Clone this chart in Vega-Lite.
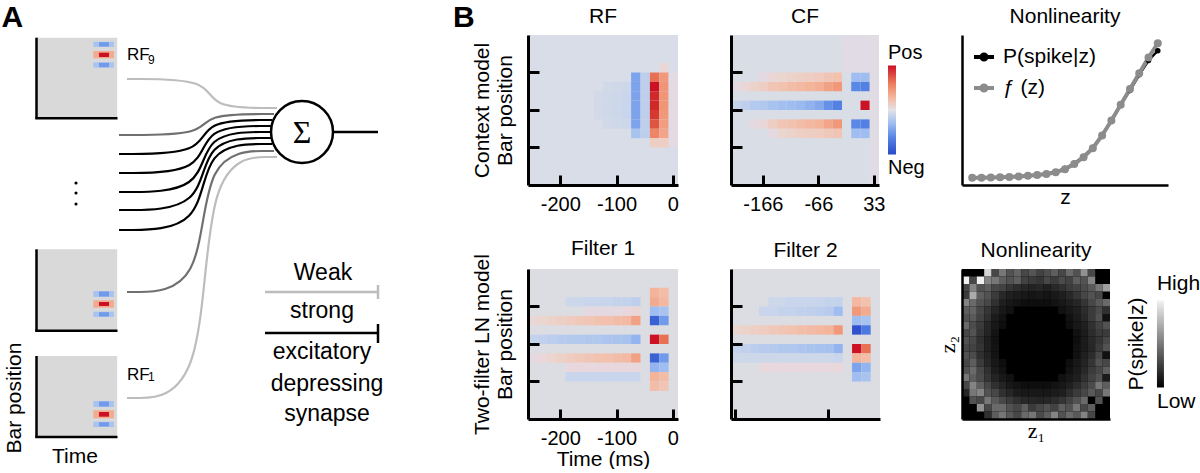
{
"$schema":"https://vega.github.io/schema/vega-lite/v6.json",
"padding":{"left":0,"top":2,"right":0,"bottom":0},
"config":{"view":{"stroke":null},"font":"Liberation Sans",
"axis":{"grid":false,"domainColor":"#000","tickColor":"#000","labelColor":"#000","titleColor":"#000","labelFontSize":20,"titleFontSize":21,"titleFontWeight":"normal","labelFont":"Liberation Sans","titleFont":"Liberation Sans"},
"title":{"fontSize":21,"fontWeight":"normal","offset":8,"color":"#000","font":"Liberation Sans"},
"text":{"color":"#000"}},
"datasets":{
"abox":[{"x":3.6,"x2":11.72,"y":3.67,"y2":11.73},{"x":3.6,"x2":11.72,"y":24.83,"y2":32.98},{"x":3.6,"x2":11.72,"y":35.5,"y2":43.6}],
"acell":[
{"x":9.33,"x2":11.4,"y":4.07,"y2":4.6,"v":-0.25},{"x":9.9,"x2":10.9,"y":4.12,"y2":4.55,"v":-0.5},
{"x":9.33,"x2":11.4,"y":5.0,"y2":5.73,"v":0.35},{"x":9.9,"x2":10.9,"y":5.17,"y2":5.6,"v":1.0},
{"x":9.33,"x2":11.4,"y":6.13,"y2":6.67,"v":-0.25},{"x":9.9,"x2":10.9,"y":6.18,"y2":6.62,"v":-0.5},
{"x":9.33,"x2":11.4,"y":29.0,"y2":29.6,"v":-0.25},{"x":9.9,"x2":10.9,"y":29.05,"y2":29.55,"v":-0.5},
{"x":9.33,"x2":11.4,"y":29.93,"y2":30.67,"v":0.35},{"x":9.9,"x2":10.9,"y":30.1,"y2":30.5,"v":1.0},
{"x":9.33,"x2":11.4,"y":31.07,"y2":31.6,"v":-0.25},{"x":9.9,"x2":10.9,"y":31.12,"y2":31.55,"v":-0.5},
{"x":9.33,"x2":11.4,"y":40.0,"y2":40.6,"v":-0.25},{"x":9.9,"x2":10.9,"y":40.05,"y2":40.55,"v":-0.5},
{"x":9.33,"x2":11.4,"y":40.93,"y2":41.73,"v":0.35},{"x":9.9,"x2":10.9,"y":41.1,"y2":41.57,"v":1.0},
{"x":9.33,"x2":11.4,"y":42.07,"y2":42.6,"v":-0.25},{"x":9.9,"x2":10.9,"y":42.12,"y2":42.55,"v":-0.5}],
"acurve":[
{"id":1,"o":0,"x":12.7,"y":7.8,"w":"weak"},{"id":1,"o":1,"x":20.95,"y":7.8,"w":"weak"},{"id":1,"o":2,"x":20.95,"y":10.7,"w":"weak"},{"id":1,"o":3,"x":27.7,"y":10.7,"w":"weak"},
{"id":2,"o":0,"x":11.9,"y":13.4,"w":"mid"},{"id":2,"o":1,"x":20.4,"y":13.4,"w":"mid"},{"id":2,"o":2,"x":20.4,"y":11.3,"w":"mid"},{"id":2,"o":3,"x":27.4,"y":11.3,"w":"mid"},
{"id":3,"o":0,"x":11.9,"y":15.3,"w":"strong"},{"id":3,"o":1,"x":20.3,"y":15.3,"w":"strong"},{"id":3,"o":2,"x":20.3,"y":11.9,"w":"strong"},{"id":3,"o":3,"x":27.2,"y":11.9,"w":"strong"},
{"id":4,"o":0,"x":11.9,"y":17.2,"w":"strong"},{"id":4,"o":1,"x":20.3,"y":17.2,"w":"strong"},{"id":4,"o":2,"x":20.3,"y":12.5,"w":"strong"},{"id":4,"o":3,"x":27.1,"y":12.5,"w":"strong"},
{"id":5,"o":0,"x":11.9,"y":19.1,"w":"strong"},{"id":5,"o":1,"x":20.3,"y":19.1,"w":"strong"},{"id":5,"o":2,"x":20.3,"y":13.1,"w":"strong"},{"id":5,"o":3,"x":27.1,"y":13.1,"w":"strong"},
{"id":6,"o":0,"x":11.9,"y":20.9,"w":"strong"},{"id":6,"o":1,"x":20.3,"y":20.9,"w":"strong"},{"id":6,"o":2,"x":20.3,"y":13.7,"w":"strong"},{"id":6,"o":3,"x":27.1,"y":13.7,"w":"strong"},
{"id":7,"o":0,"x":11.9,"y":22.9,"w":"strong"},{"id":7,"o":1,"x":20.3,"y":22.9,"w":"strong"},{"id":7,"o":2,"x":20.3,"y":14.3,"w":"strong"},{"id":7,"o":3,"x":27.2,"y":14.3,"w":"strong"},
{"id":8,"o":0,"x":12.7,"y":29.1,"w":"mid"},{"id":8,"o":1,"x":20.3,"y":29.1,"w":"mid"},{"id":8,"o":2,"x":20.3,"y":15.0,"w":"mid"},{"id":8,"o":3,"x":27.4,"y":15.0,"w":"mid"},
{"id":9,"o":0,"x":12.7,"y":39.7,"w":"weak"},{"id":9,"o":1,"x":20.5,"y":39.7,"w":"weak"},{"id":9,"o":2,"x":20.5,"y":15.6,"w":"weak"},{"id":9,"o":3,"x":27.7,"y":15.6,"w":"weak"}],
"arule":[
{"x":3.65,"x2":3.65,"y":3.67,"y2":11.73,"w":"strong"},{"x":3.52,"x2":11.75,"y":11.73,"y2":11.73,"w":"strong"},
{"x":3.65,"x2":3.65,"y":24.83,"y2":32.98,"w":"strong"},{"x":3.52,"x2":11.75,"y":32.98,"y2":32.98,"w":"strong"},
{"x":3.65,"x2":3.65,"y":35.5,"y2":43.6,"w":"strong"},{"x":3.52,"x2":11.75,"y":43.6,"y2":43.6,"w":"strong"},
{"x":33.4,"x2":37.8,"y":13.1,"y2":13.1,"w":"strong"},
{"x":26.5,"x2":37.8,"y":29.1,"y2":29.1,"w":"weak"},{"x":37.8,"x2":37.8,"y":28.4,"y2":29.8,"w":"weak"},
{"x":26.5,"x2":37.8,"y":33.2,"y2":33.2,"w":"strong"},{"x":37.8,"x2":37.8,"y":32.3,"y2":34.2,"w":"strong"}],
"acircle":[{"x":30.2,"y":13.1}],
"asigma":[{"x":30.2,"y":13.2,"s":"Σ"}],
"adots":[{"x":7.6,"y":18.2},{"x":7.6,"y":19.2},{"x":7.6,"y":20.3}],
"aword":[{"x":32.3,"y":27.93,"s":"Weak"},{"x":32.2,"y":31.67,"s":"strong"},{"x":32.2,"y":35.83,"s":"excitatory"},{"x":32.7,"y":39.0,"s":"depressing"},{"x":32.7,"y":42.0,"s":"synapse"}],
"arf":[{"x":12.7,"y":5.93,"s":"RF"},{"x":12.7,"y":37.87,"s":"RF"}],
"asub":[{"x":14.8,"y":6.27,"s":"9"},{"x":14.8,"y":38.0,"s":"1"}],
"abig":[{"x":0.15,"y":2.6,"s":"A"},{"x":45.3,"y":2.55,"s":"B"}],
"atime":[{"x":7.5,"y":46.2,"s":"Time"}],
"abar":[{"x":1.5,"y":39.7,"s":"Bar position"}],
"rf":[
{"t":-133.3,"b":10,"v":-0.05},{"t":-133.3,"b":9,"v":-0.05},{"t":-133.3,"b":8,"v":-0.05},
{"t":-116.7,"b":11,"v":-0.06},{"t":-116.7,"b":10,"v":-0.07},{"t":-116.7,"b":9,"v":-0.07},{"t":-116.7,"b":8,"v":-0.07},{"t":-116.7,"b":7,"v":-0.06},
{"t":-100,"b":11,"v":-0.07},{"t":-100,"b":10,"v":-0.08},{"t":-100,"b":9,"v":-0.08},{"t":-100,"b":8,"v":-0.08},{"t":-100,"b":7,"v":-0.07},
{"t":-83.3,"b":11,"v":-0.08},{"t":-83.3,"b":10,"v":-0.1},{"t":-83.3,"b":9,"v":-0.1},{"t":-83.3,"b":8,"v":-0.1},{"t":-83.3,"b":7,"v":-0.08},
{"t":-66.7,"b":12,"v":-0.45},{"t":-66.7,"b":11,"v":-0.45},{"t":-66.7,"b":10,"v":-0.45},{"t":-66.7,"b":9,"v":-0.45},{"t":-66.7,"b":8,"v":-0.45},{"t":-66.7,"b":7,"v":-0.45},{"t":-66.7,"b":6,"v":-0.25},
{"t":-50,"b":12,"v":-0.15},{"t":-50,"b":11,"v":-0.15},{"t":-50,"b":10,"v":-0.15},{"t":-50,"b":9,"v":-0.15},{"t":-50,"b":8,"v":-0.15},{"t":-50,"b":7,"v":-0.15},{"t":-50,"b":6,"v":-0.15},
{"t":-33.3,"b":12,"v":0.65},{"t":-33.3,"b":11,"v":1},{"t":-33.3,"b":10,"v":0.95},{"t":-33.3,"b":9,"v":0.95},{"t":-33.3,"b":8,"v":0.9},{"t":-33.3,"b":7,"v":0.78},{"t":-33.3,"b":6,"v":0.55},{"t":-33.3,"b":5,"v":0.15},
{"t":-16.7,"b":13,"v":0.08},{"t":-16.7,"b":12,"v":0.45},{"t":-16.7,"b":11,"v":0.47},{"t":-16.7,"b":10,"v":0.47},{"t":-16.7,"b":9,"v":0.47},{"t":-16.7,"b":8,"v":0.45},{"t":-16.7,"b":7,"v":0.42},{"t":-16.7,"b":6,"v":0.38},{"t":-16.7,"b":5,"v":0.15},
{"t":0,"b":12,"v":0.04},{"t":0,"b":11,"v":0.04},{"t":0,"b":10,"v":0.04},{"t":0,"b":9,"v":0.04},{"t":0,"b":8,"v":0.04},{"t":0,"b":7,"v":0.04},{"t":0,"b":6,"v":0.04},{"t":0,"b":5,"v":0.04}],
"cf":[
{"t":-216.7,"b":11,"v":0.05},{"t":-200,"b":11,"v":0.08},{"t":-183.3,"b":11,"v":0.12},{"t":-166.7,"b":11,"v":0.15},{"t":-150,"b":11,"v":0.2},{"t":-133.3,"b":11,"v":0.22},{"t":-116.7,"b":11,"v":0.25},{"t":-100,"b":11,"v":0.27},{"t":-83.3,"b":11,"v":0.3},{"t":-66.7,"b":11,"v":0.33},{"t":-50,"b":11,"v":0.4},{"t":-33.3,"b":11,"v":0.45},
{"t":-166.7,"b":12,"v":0.05},{"t":-150,"b":12,"v":0.08},{"t":-133.3,"b":12,"v":0.1},{"t":-116.7,"b":12,"v":0.12},{"t":-100,"b":12,"v":0.14},{"t":-83.3,"b":12,"v":0.15},{"t":-66.7,"b":12,"v":0.17},{"t":-50,"b":12,"v":0.2},{"t":-33.3,"b":12,"v":0.22},
{"t":-216.7,"b":9,"v":-0.12},{"t":-200,"b":9,"v":-0.15},{"t":-183.3,"b":9,"v":-0.2},{"t":-166.7,"b":9,"v":-0.22},{"t":-150,"b":9,"v":-0.25},{"t":-133.3,"b":9,"v":-0.28},{"t":-116.7,"b":9,"v":-0.3},{"t":-100,"b":9,"v":-0.32},{"t":-83.3,"b":9,"v":-0.36},{"t":-66.7,"b":9,"v":-0.42},{"t":-50,"b":9,"v":-0.55},{"t":-33.3,"b":9,"v":-0.65},
{"t":-183.3,"b":7,"v":0.05},{"t":-166.7,"b":7,"v":0.08},{"t":-150,"b":7,"v":0.15},{"t":-133.3,"b":7,"v":0.2},{"t":-116.7,"b":7,"v":0.22},{"t":-100,"b":7,"v":0.25},{"t":-83.3,"b":7,"v":0.28},{"t":-66.7,"b":7,"v":0.3},{"t":-50,"b":7,"v":0.38},{"t":-33.3,"b":7,"v":0.45},
{"t":-150,"b":6,"v":0.05},{"t":-133.3,"b":6,"v":0.1},{"t":-116.7,"b":6,"v":0.12},{"t":-100,"b":6,"v":0.14},{"t":-83.3,"b":6,"v":0.15},{"t":-66.7,"b":6,"v":0.16},{"t":-50,"b":6,"v":0.18},{"t":-33.3,"b":6,"v":0.2},
{"t":0,"b":12,"v":-0.3},{"t":0,"b":11,"v":-0.6},{"t":0,"b":7,"v":-0.6},{"t":0,"b":6,"v":-0.3},
{"t":16.7,"b":12,"v":-0.3},{"t":16.7,"b":11,"v":-0.65},{"t":16.7,"b":9,"v":1},{"t":16.7,"b":7,"v":-0.65},{"t":16.7,"b":6,"v":-0.3},
{"t":-16.7,"b":16,"v":0.03},{"t":-16.7,"b":15,"v":0.03},{"t":-16.7,"b":14,"v":0.03},{"t":-16.7,"b":13,"v":0.03},
{"t":0,"b":16,"v":0.03},{"t":0,"b":15,"v":0.03},{"t":0,"b":14,"v":0.03},{"t":0,"b":13,"v":0.03},
{"t":16.7,"b":16,"v":0.03},{"t":16.7,"b":15,"v":0.03},{"t":16.7,"b":14,"v":0.03},{"t":16.7,"b":13,"v":0.03},
{"t":33.3,"b":16,"v":0.035},{"t":33.3,"b":15,"v":0.035},{"t":33.3,"b":14,"v":0.035},{"t":33.3,"b":13,"v":0.035},{"t":33.3,"b":12,"v":0.035},{"t":33.3,"b":11,"v":0.035},{"t":33.3,"b":10,"v":0.035},{"t":33.3,"b":9,"v":0.035},{"t":33.3,"b":8,"v":0.035},{"t":33.3,"b":7,"v":0.035},{"t":33.3,"b":6,"v":0.035},{"t":33.3,"b":5,"v":0.035},{"t":33.3,"b":4,"v":0.03},{"t":33.3,"b":3,"v":0.03},{"t":33.3,"b":2,"v":0.03},{"t":33.3,"b":1,"v":0.03}],
"f1":[
{"t":-183.3,"b":13,"v":-0.08},{"t":-166.7,"b":13,"v":-0.08},{"t":-150,"b":13,"v":-0.1},{"t":-133.3,"b":13,"v":-0.1},{"t":-116.7,"b":13,"v":-0.1},{"t":-100,"b":13,"v":-0.12},{"t":-83.3,"b":13,"v":-0.12},{"t":-66.7,"b":13,"v":-0.15},
{"t":-150,"b":12,"v":0.05},{"t":-133.3,"b":12,"v":0.05},{"t":-116.7,"b":12,"v":0.05},{"t":-100,"b":12,"v":0.05},{"t":-83.3,"b":12,"v":0.06},{"t":-66.7,"b":12,"v":0.08},
{"t":-250,"b":11,"v":0.08},{"t":-233.3,"b":11,"v":0.1},{"t":-216.7,"b":11,"v":0.12},{"t":-200,"b":11,"v":0.14},{"t":-183.3,"b":11,"v":0.16},{"t":-166.7,"b":11,"v":0.18},{"t":-150,"b":11,"v":0.2},{"t":-133.3,"b":11,"v":0.22},{"t":-116.7,"b":11,"v":0.23},{"t":-100,"b":11,"v":0.25},{"t":-83.3,"b":11,"v":0.27},{"t":-66.7,"b":11,"v":0.4},
{"t":-250,"b":9,"v":-0.12},{"t":-233.3,"b":9,"v":-0.14},{"t":-216.7,"b":9,"v":-0.16},{"t":-200,"b":9,"v":-0.18},{"t":-183.3,"b":9,"v":-0.2},{"t":-166.7,"b":9,"v":-0.2},{"t":-150,"b":9,"v":-0.22},{"t":-133.3,"b":9,"v":-0.22},{"t":-116.7,"b":9,"v":-0.24},{"t":-100,"b":9,"v":-0.25},{"t":-83.3,"b":9,"v":-0.26},{"t":-66.7,"b":9,"v":-0.35},
{"t":-250,"b":7,"v":0.05},{"t":-233.3,"b":7,"v":0.07},{"t":-216.7,"b":7,"v":0.1},{"t":-200,"b":7,"v":0.13},{"t":-183.3,"b":7,"v":0.16},{"t":-166.7,"b":7,"v":0.18},{"t":-150,"b":7,"v":0.2},{"t":-133.3,"b":7,"v":0.22},{"t":-116.7,"b":7,"v":0.23},{"t":-100,"b":7,"v":0.25},{"t":-83.3,"b":7,"v":0.27},{"t":-66.7,"b":7,"v":0.4},
{"t":-183.3,"b":6,"v":0.06},{"t":-166.7,"b":6,"v":0.06},{"t":-150,"b":6,"v":0.06},{"t":-133.3,"b":6,"v":0.06},{"t":-116.7,"b":6,"v":0.06},{"t":-100,"b":6,"v":0.06},{"t":-83.3,"b":6,"v":0.06},{"t":-66.7,"b":6,"v":0.06},
{"t":-183.3,"b":5,"v":-0.1},{"t":-166.7,"b":5,"v":-0.1},{"t":-150,"b":5,"v":-0.1},{"t":-133.3,"b":5,"v":-0.1},{"t":-116.7,"b":5,"v":-0.1},{"t":-100,"b":5,"v":-0.1},{"t":-83.3,"b":5,"v":-0.1},{"t":-66.7,"b":5,"v":-0.1},
{"t":-33.3,"b":14,"v":0.3},{"t":-33.3,"b":13,"v":0.35},{"t":-33.3,"b":12,"v":-0.3},{"t":-33.3,"b":11,"v":-0.85},{"t":-33.3,"b":9,"v":1},{"t":-33.3,"b":7,"v":-0.85},{"t":-33.3,"b":6,"v":-0.35},{"t":-33.3,"b":5,"v":0.3},{"t":-33.3,"b":4,"v":0.25},
{"t":-16.7,"b":14,"v":0.25},{"t":-16.7,"b":13,"v":0.28},{"t":-16.7,"b":12,"v":-0.25},{"t":-16.7,"b":11,"v":-0.5},{"t":-16.7,"b":9,"v":0.65},{"t":-16.7,"b":7,"v":-0.5},{"t":-16.7,"b":6,"v":-0.3},{"t":-16.7,"b":5,"v":0.25},{"t":-16.7,"b":4,"v":0.2}],
"f2":[
{"t":-183.3,"b":13,"v":-0.08},{"t":-166.7,"b":13,"v":-0.08},{"t":-150,"b":13,"v":-0.1},{"t":-133.3,"b":13,"v":-0.1},{"t":-116.7,"b":13,"v":-0.1},{"t":-100,"b":13,"v":-0.1},{"t":-83.3,"b":13,"v":-0.12},{"t":-66.7,"b":13,"v":-0.12},
{"t":-200,"b":12,"v":-0.1},{"t":-183.3,"b":12,"v":-0.1},{"t":-166.7,"b":12,"v":-0.12},{"t":-150,"b":12,"v":-0.12},{"t":-133.3,"b":12,"v":-0.14},{"t":-116.7,"b":12,"v":-0.15},{"t":-100,"b":12,"v":-0.16},{"t":-83.3,"b":12,"v":-0.18},{"t":-66.7,"b":12,"v":-0.3},
{"t":-250,"b":10,"v":0.1},{"t":-233.3,"b":10,"v":0.12},{"t":-216.7,"b":10,"v":0.14},{"t":-200,"b":10,"v":0.16},{"t":-183.3,"b":10,"v":0.18},{"t":-166.7,"b":10,"v":0.2},{"t":-150,"b":10,"v":0.22},{"t":-133.3,"b":10,"v":0.24},{"t":-116.7,"b":10,"v":0.26},{"t":-100,"b":10,"v":0.28},{"t":-83.3,"b":10,"v":0.3},{"t":-66.7,"b":10,"v":0.45},
{"t":-250,"b":8,"v":-0.12},{"t":-233.3,"b":8,"v":-0.14},{"t":-216.7,"b":8,"v":-0.16},{"t":-200,"b":8,"v":-0.18},{"t":-183.3,"b":8,"v":-0.2},{"t":-166.7,"b":8,"v":-0.22},{"t":-150,"b":8,"v":-0.22},{"t":-133.3,"b":8,"v":-0.24},{"t":-116.7,"b":8,"v":-0.25},{"t":-100,"b":8,"v":-0.26},{"t":-83.3,"b":8,"v":-0.27},{"t":-66.7,"b":8,"v":-0.35},
{"t":-250,"b":7,"v":-0.08},{"t":-233.3,"b":7,"v":-0.08},{"t":-216.7,"b":7,"v":-0.08},{"t":-200,"b":7,"v":-0.08},{"t":-183.3,"b":7,"v":-0.08},{"t":-166.7,"b":7,"v":-0.08},{"t":-150,"b":7,"v":-0.08},{"t":-133.3,"b":7,"v":-0.08},{"t":-116.7,"b":7,"v":-0.08},{"t":-100,"b":7,"v":-0.08},{"t":-83.3,"b":7,"v":-0.08},{"t":-66.7,"b":7,"v":-0.1},
{"t":-200,"b":6,"v":0.06},{"t":-183.3,"b":6,"v":0.06},{"t":-166.7,"b":6,"v":0.06},{"t":-150,"b":6,"v":0.06},{"t":-133.3,"b":6,"v":0.06},{"t":-116.7,"b":6,"v":0.06},{"t":-100,"b":6,"v":0.06},{"t":-83.3,"b":6,"v":0.06},{"t":-66.7,"b":6,"v":0.07},
{"t":-33.3,"b":13,"v":0.28},{"t":-33.3,"b":12,"v":0.45},{"t":-33.3,"b":11,"v":-0.3},{"t":-33.3,"b":10,"v":-0.95},{"t":-33.3,"b":8,"v":1},{"t":-33.3,"b":7,"v":0.3},{"t":-33.3,"b":6,"v":-0.45},{"t":-33.3,"b":5,"v":-0.3},
{"t":-16.7,"b":13,"v":0.22},{"t":-16.7,"b":12,"v":0.35},{"t":-16.7,"b":11,"v":-0.25},{"t":-16.7,"b":10,"v":-0.7},{"t":-16.7,"b":8,"v":0.65},{"t":-16.7,"b":7,"v":0.25},{"t":-16.7,"b":6,"v":-0.35},{"t":-16.7,"b":5,"v":-0.25}],
"cbbar":[{"x":0,"x2":1,"y":-1,"y2":1}],
"cbtext":[{"x":0,"y":1.15,"s":"Pos"},{"x":0,"y":-1.44,"s":"Neg"}],
"gcbbar":[{"x":0,"x2":1,"y":-1,"y2":1}],
"gcbtext":[{"x":0,"y":1.23,"s":"High"},{"x":0,"y":-1.48,"s":"Low"}],
"gcbtitle":[{"x":-2.86,"y":0,"s":"P(spike|z)"}],
"nl":[
{"z":0,"v":0.046,"s":"P(spike|z)"},{"z":1,"v":0.05,"s":"P(spike|z)"},{"z":2,"v":0.05,"s":"P(spike|z)"},{"z":3,"v":0.053,"s":"P(spike|z)"},{"z":4,"v":0.053,"s":"P(spike|z)"},{"z":5,"v":0.058,"s":"P(spike|z)"},{"z":6,"v":0.06,"s":"P(spike|z)"},{"z":7,"v":0.068,"s":"P(spike|z)"},{"z":8,"v":0.075,"s":"P(spike|z)"},{"z":9,"v":0.088,"s":"P(spike|z)"},{"z":10,"v":0.11,"s":"P(spike|z)"},{"z":11,"v":0.145,"s":"P(spike|z)"},{"z":12,"v":0.19,"s":"P(spike|z)"},{"z":13,"v":0.25,"s":"P(spike|z)"},{"z":14,"v":0.335,"s":"P(spike|z)"},{"z":15,"v":0.425,"s":"P(spike|z)"},{"z":16,"v":0.54,"s":"P(spike|z)"},{"z":17,"v":0.63,"s":"P(spike|z)"},{"z":18,"v":0.735,"s":"P(spike|z)"},{"z":19,"v":0.83,"s":"P(spike|z)"},{"z":20,"v":0.895,"s":"P(spike|z)"},
{"z":0,"v":0.048,"s":"ƒ (z)"},{"z":1,"v":0.049,"s":"ƒ (z)"},{"z":2,"v":0.05,"s":"ƒ (z)"},{"z":3,"v":0.052,"s":"ƒ (z)"},{"z":4,"v":0.054,"s":"ƒ (z)"},{"z":5,"v":0.057,"s":"ƒ (z)"},{"z":6,"v":0.061,"s":"ƒ (z)"},{"z":7,"v":0.066,"s":"ƒ (z)"},{"z":8,"v":0.074,"s":"ƒ (z)"},{"z":9,"v":0.085,"s":"ƒ (z)"},{"z":10,"v":0.105,"s":"ƒ (z)"},{"z":11,"v":0.14,"s":"ƒ (z)"},{"z":12,"v":0.185,"s":"ƒ (z)"},{"z":13,"v":0.245,"s":"ƒ (z)"},{"z":14,"v":0.33,"s":"ƒ (z)"},{"z":15,"v":0.43,"s":"ƒ (z)"},{"z":16,"v":0.535,"s":"ƒ (z)"},{"z":17,"v":0.64,"s":"ƒ (z)"},{"z":18,"v":0.745,"s":"ƒ (z)"},{"z":19,"v":0.85,"s":"ƒ (z)"},{"z":20,"v":0.945,"s":"ƒ (z)"}],
"nl2":[
{"c":3,"r":0,"g":0.85},{"c":4,"r":0,"g":0.3},{"c":5,"r":0,"g":0.5},{"c":6,"r":0,"g":0.35},{"c":7,"r":0,"g":0.42},{"c":8,"r":0,"g":0.3},{"c":9,"r":0,"g":0.36},{"c":10,"r":0,"g":0.28},{"c":11,"r":0,"g":0.33},{"c":12,"r":0,"g":0.4},{"c":13,"r":0,"g":0.3},{"c":14,"r":0,"g":0.45},{"c":15,"r":0,"g":0.35},{"c":16,"r":0,"g":0.6},{"c":17,"r":0,"g":0.3},
{"c":0,"r":1,"g":0.95},{"c":1,"r":1,"g":0.3},{"c":2,"r":1,"g":0.95},{"c":3,"r":1,"g":0.55},{"c":4,"r":1,"g":0.5},{"c":5,"r":1,"g":0.4},{"c":6,"r":1,"g":0.35},{"c":7,"r":1,"g":0.4},{"c":8,"r":1,"g":0.28},{"c":9,"r":1,"g":0.25},{"c":10,"r":1,"g":0.22},{"c":11,"r":1,"g":0.3},{"c":12,"r":1,"g":0.25},{"c":13,"r":1,"g":0.32},{"c":14,"r":1,"g":0.28},{"c":15,"r":1,"g":0.4},{"c":16,"r":1,"g":0.35},{"c":17,"r":1,"g":0.55},
{"c":0,"r":2,"g":0.3},{"c":1,"r":2,"g":0.55},{"c":2,"r":2,"g":0.35},{"c":3,"r":2,"g":0.4},{"c":4,"r":2,"g":0.3},{"c":5,"r":2,"g":0.28},{"c":6,"r":2,"g":0.22},{"c":7,"r":2,"g":0.18},{"c":8,"r":2,"g":0.15},{"c":9,"r":2,"g":0.13},{"c":10,"r":2,"g":0.15},{"c":11,"r":2,"g":0.12},{"c":12,"r":2,"g":0.16},{"c":13,"r":2,"g":0.2},{"c":14,"r":2,"g":0.25},{"c":15,"r":2,"g":0.28},{"c":16,"r":2,"g":0.32},{"c":17,"r":2,"g":0.38},{"c":18,"r":2,"g":0.5},{"c":19,"r":2,"g":0.65},
{"c":0,"r":3,"g":0.25},{"c":1,"r":3,"g":0.7},{"c":2,"r":3,"g":0.4},{"c":3,"r":3,"g":0.35},{"c":4,"r":3,"g":0.25},{"c":5,"r":3,"g":0.16},{"c":6,"r":3,"g":0.12},{"c":7,"r":3,"g":0.1},{"c":8,"r":3,"g":0.08},{"c":9,"r":3,"g":0.07},{"c":10,"r":3,"g":0.08},{"c":11,"r":3,"g":0.07},{"c":12,"r":3,"g":0.09},{"c":13,"r":3,"g":0.12},{"c":14,"r":3,"g":0.16},{"c":15,"r":3,"g":0.22},{"c":16,"r":3,"g":0.3},{"c":17,"r":3,"g":0.35},{"c":18,"r":3,"g":0.3},
{"c":0,"r":4,"g":0.55},{"c":1,"r":4,"g":0.45},{"c":2,"r":4,"g":0.35},{"c":3,"r":4,"g":0.3},{"c":4,"r":4,"g":0.2},{"c":5,"r":4,"g":0.12},{"c":6,"r":4,"g":0.08},{"c":7,"r":4,"g":0.06},{"c":8,"r":4,"g":0.04},{"c":9,"r":4,"g":0.04},{"c":10,"r":4,"g":0.04},{"c":11,"r":4,"g":0.04},{"c":12,"r":4,"g":0.06},{"c":13,"r":4,"g":0.08},{"c":14,"r":4,"g":0.12},{"c":15,"r":4,"g":0.15},{"c":16,"r":4,"g":0.22},{"c":17,"r":4,"g":0.3},{"c":18,"r":4,"g":0.38},{"c":19,"r":4,"g":0.45},
{"c":0,"r":5,"g":0.4},{"c":1,"r":5,"g":0.42},{"c":2,"r":5,"g":0.3},{"c":3,"r":5,"g":0.22},{"c":4,"r":5,"g":0.14},{"c":5,"r":5,"g":0.08},{"c":6,"r":5,"g":0.05},{"c":13,"r":5,"g":0.05},{"c":14,"r":5,"g":0.08},{"c":15,"r":5,"g":0.12},{"c":16,"r":5,"g":0.18},{"c":17,"r":5,"g":0.25},{"c":18,"r":5,"g":0.32},{"c":19,"r":5,"g":0.2},
{"c":0,"r":6,"g":0.35},{"c":1,"r":6,"g":0.38},{"c":2,"r":6,"g":0.28},{"c":3,"r":6,"g":0.2},{"c":4,"r":6,"g":0.1},{"c":5,"r":6,"g":0.05},{"c":14,"r":6,"g":0.05},{"c":15,"r":6,"g":0.1},{"c":16,"r":6,"g":0.16},{"c":17,"r":6,"g":0.25},{"c":18,"r":6,"g":0.35},{"c":19,"r":6,"g":0.05},
{"c":0,"r":7,"g":0.45},{"c":1,"r":7,"g":0.32},{"c":2,"r":7,"g":0.25},{"c":3,"r":7,"g":0.15},{"c":4,"r":7,"g":0.08},{"c":5,"r":7,"g":0.04},{"c":14,"r":7,"g":0.04},{"c":15,"r":7,"g":0.08},{"c":16,"r":7,"g":0.12},{"c":17,"r":7,"g":0.2},{"c":18,"r":7,"g":0.28},{"c":19,"r":7,"g":0.35},
{"c":0,"r":8,"g":0.3},{"c":1,"r":8,"g":0.35},{"c":2,"r":8,"g":0.22},{"c":3,"r":8,"g":0.14},{"c":4,"r":8,"g":0.06},{"c":15,"r":8,"g":0.05},{"c":16,"r":8,"g":0.1},{"c":17,"r":8,"g":0.18},{"c":18,"r":8,"g":0.25},{"c":19,"r":8,"g":0.25},
{"c":0,"r":9,"g":0.35},{"c":1,"r":9,"g":0.3},{"c":2,"r":9,"g":0.2},{"c":3,"r":9,"g":0.12},{"c":4,"r":9,"g":0.05},{"c":15,"r":9,"g":0.04},{"c":16,"r":9,"g":0.1},{"c":17,"r":9,"g":0.16},{"c":18,"r":9,"g":0.22},{"c":19,"r":9,"g":0.3},
{"c":0,"r":10,"g":0.3},{"c":1,"r":10,"g":0.28},{"c":2,"r":10,"g":0.22},{"c":3,"r":10,"g":0.12},{"c":4,"r":10,"g":0.06},{"c":15,"r":10,"g":0.05},{"c":16,"r":10,"g":0.1},{"c":17,"r":10,"g":0.15},{"c":18,"r":10,"g":0.25},{"c":19,"r":10,"g":0.35},
{"c":0,"r":11,"g":0.35},{"c":1,"r":11,"g":0.32},{"c":2,"r":11,"g":0.2},{"c":3,"r":11,"g":0.13},{"c":4,"r":11,"g":0.06},{"c":15,"r":11,"g":0.05},{"c":16,"r":11,"g":0.12},{"c":17,"r":11,"g":0.18},{"c":18,"r":11,"g":0.3},{"c":19,"r":11,"g":0.05},
{"c":0,"r":12,"g":0.3},{"c":1,"r":12,"g":0.4},{"c":2,"r":12,"g":0.25},{"c":3,"r":12,"g":0.15},{"c":4,"r":12,"g":0.08},{"c":5,"r":12,"g":0.04},{"c":14,"r":12,"g":0.04},{"c":15,"r":12,"g":0.08},{"c":16,"r":12,"g":0.14},{"c":17,"r":12,"g":0.22},{"c":18,"r":12,"g":0.35},{"c":19,"r":12,"g":0.3},
{"c":0,"r":13,"g":0.35},{"c":1,"r":13,"g":0.45},{"c":2,"r":13,"g":0.3},{"c":3,"r":13,"g":0.2},{"c":4,"r":13,"g":0.1},{"c":5,"r":13,"g":0.05},{"c":14,"r":13,"g":0.05},{"c":15,"r":13,"g":0.1},{"c":16,"r":13,"g":0.16},{"c":17,"r":13,"g":0.25},{"c":18,"r":13,"g":0.3},{"c":19,"r":13,"g":0.4},
{"c":0,"r":14,"g":0.5},{"c":1,"r":14,"g":0.4},{"c":2,"r":14,"g":0.32},{"c":3,"r":14,"g":0.22},{"c":4,"r":14,"g":0.14},{"c":5,"r":14,"g":0.08},{"c":6,"r":14,"g":0.05},{"c":13,"r":14,"g":0.05},{"c":14,"r":14,"g":0.08},{"c":15,"r":14,"g":0.12},{"c":16,"r":14,"g":0.2},{"c":17,"r":14,"g":0.28},{"c":18,"r":14,"g":0.35},{"c":19,"r":14,"g":0.1},
{"c":0,"r":15,"g":0.3},{"c":1,"r":15,"g":0.55},{"c":2,"r":15,"g":0.4},{"c":3,"r":15,"g":0.3},{"c":4,"r":15,"g":0.2},{"c":5,"r":15,"g":0.14},{"c":6,"r":15,"g":0.08},{"c":7,"r":15,"g":0.06},{"c":8,"r":15,"g":0.04},{"c":9,"r":15,"g":0.04},{"c":10,"r":15,"g":0.04},{"c":11,"r":15,"g":0.04},{"c":12,"r":15,"g":0.06},{"c":13,"r":15,"g":0.08},{"c":14,"r":15,"g":0.12},{"c":15,"r":15,"g":0.18},{"c":16,"r":15,"g":0.25},{"c":17,"r":15,"g":0.32},{"c":18,"r":15,"g":0.5},{"c":19,"r":15,"g":0.4},
{"c":0,"r":16,"g":0.15},{"c":1,"r":16,"g":0.5},{"c":2,"r":16,"g":0.55},{"c":3,"r":16,"g":0.35},{"c":4,"r":16,"g":0.3},{"c":5,"r":16,"g":0.2},{"c":6,"r":16,"g":0.15},{"c":7,"r":16,"g":0.1},{"c":8,"r":16,"g":0.08},{"c":9,"r":16,"g":0.08},{"c":10,"r":16,"g":0.08},{"c":11,"r":16,"g":0.08},{"c":12,"r":16,"g":0.1},{"c":13,"r":16,"g":0.12},{"c":14,"r":16,"g":0.18},{"c":15,"r":16,"g":0.25},{"c":16,"r":16,"g":0.3},{"c":17,"r":16,"g":0.38},{"c":18,"r":16,"g":0.3},{"c":19,"r":16,"g":0.5},
{"c":1,"r":17,"g":0.35},{"c":2,"r":17,"g":0.3},{"c":3,"r":17,"g":0.5},{"c":4,"r":17,"g":0.38},{"c":5,"r":17,"g":0.3},{"c":6,"r":17,"g":0.25},{"c":7,"r":17,"g":0.2},{"c":8,"r":17,"g":0.16},{"c":9,"r":17,"g":0.15},{"c":10,"r":17,"g":0.14},{"c":11,"r":17,"g":0.15},{"c":12,"r":17,"g":0.18},{"c":13,"r":17,"g":0.22},{"c":14,"r":17,"g":0.28},{"c":15,"r":17,"g":0.35},{"c":16,"r":17,"g":0.45},{"c":18,"r":17,"g":0.35},
{"c":2,"r":18,"g":0.6},{"c":3,"r":18,"g":0.3},{"c":4,"r":18,"g":0.45},{"c":5,"r":18,"g":0.45},{"c":6,"r":18,"g":0.35},{"c":7,"r":18,"g":0.3},{"c":8,"r":18,"g":0.4},{"c":9,"r":18,"g":0.25},{"c":10,"r":18,"g":0.3},{"c":11,"r":18,"g":0.35},{"c":12,"r":18,"g":0.28},{"c":13,"r":18,"g":0.4},{"c":14,"r":18,"g":0.35},{"c":15,"r":18,"g":0.5},{"c":16,"r":18,"g":0.3},{"c":17,"r":18,"g":0.4},
{"c":3,"r":19,"g":0.2},{"c":4,"r":19,"g":0.4},{"c":5,"r":19,"g":0.5},{"c":6,"r":19,"g":0.38},{"c":7,"r":19,"g":0.3},{"c":8,"r":19,"g":0.45},{"c":9,"r":19,"g":0.5},{"c":10,"r":19,"g":0.32},{"c":11,"r":19,"g":0.4},{"c":12,"r":19,"g":0.55},{"c":13,"r":19,"g":0.35},{"c":14,"r":19,"g":0.45},{"c":15,"r":19,"g":0.38},{"c":16,"r":19,"g":0.55},{"c":17,"r":19,"g":0.3}]
},
"concat":[
{"width":390,"height":150,
 "encoding":{"x":{"field":"x","type":"quantitative","scale":{"domain":[0,39],"nice":false,"zero":false},"axis":null},
  "y":{"field":"y","type":"quantitative","scale":{"domain":[3.4,18.4],"nice":false,"zero":false,"reverse":true},"axis":null}},
 "layer":[
  {"data":{"name":"abox"},"mark":{"type":"rect","fill":"#d9d9d9"},"encoding":{"x2":{"field":"x2"},"y2":{"field":"y2"}}},
  {"data":{"name":"acell"},"mark":{"type":"rect"},"encoding":{"x2":{"field":"x2"},"y2":{"field":"y2"},"color":{"field":"v","type":"quantitative","scale":{"domain":[-1,-0.6,-0.3,-0.1,0,0.1,0.3,0.6,1],"range":["#2a4ac8","#5a88e6","#9fbdf0","#c8d5ec","#dcdee3","#ebd6cf","#f4b49a","#ec7b5d","#cc1124"]},"legend":null}}},
  {"data":{"name":"acurve"},"mark":{"type":"line","interpolate":"basis","strokeWidth":2.2},"encoding":{"detail":{"field":"id","type":"nominal"},"order":{"field":"o","type":"quantitative"},"stroke":{"field":"w","type":"nominal","scale":{"domain":["weak","mid","strong"],"range":["#bdbdbd","#707070","#000000"]},"legend":null}}},
  {"data":{"name":"arule"},"mark":{"type":"rule","strokeWidth":2.5},"encoding":{"x2":{"field":"x2"},"y2":{"field":"y2"},"stroke":{"field":"w","type":"nominal","legend":null}}},
  {"data":{"name":"acircle"},"mark":{"type":"point","shape":"circle","size":3844,"filled":true,"fill":"#ffffff","stroke":"#000000","strokeWidth":2.5,"opacity":1}},
  {"data":{"name":"asigma"},"mark":{"type":"text","font":"Liberation Serif","fontSize":32,"align":"center","baseline":"middle"},"encoding":{"text":{"field":"s"}}},
  {"data":{"name":"adots"},"mark":{"type":"point","shape":"circle","size":10,"filled":true,"color":"#000","opacity":1}},
  {"data":{"name":"aword"},"mark":{"type":"text","fontSize":23,"align":"center","baseline":"alphabetic"},"encoding":{"text":{"field":"s"}}},
  {"data":{"name":"arf"},"mark":{"type":"text","fontSize":17,"align":"left","baseline":"alphabetic"},"encoding":{"text":{"field":"s"}}},
  {"data":{"name":"asub"},"mark":{"type":"text","fontSize":12,"align":"left","baseline":"alphabetic"},"encoding":{"text":{"field":"s"}}},
  {"data":{"name":"abig"},"mark":{"type":"text","fontSize":30,"fontWeight":"bold","align":"left","baseline":"alphabetic"},"encoding":{"text":{"field":"s"}}},
  {"data":{"name":"atime"},"mark":{"type":"text","fontSize":21,"align":"center","baseline":"alphabetic"},"encoding":{"text":{"field":"s"}}},
  {"data":{"name":"abar"},"mark":{"type":"text","fontSize":21,"angle":270,"align":"center","baseline":"middle"},"encoding":{"text":{"field":"s"}}}
 ]},
{"width":138,"height":150,"data":{"values":[]},"mark":"point","encoding":{}},
{"width":150,"height":150,"title":"RF","data":{"name":"rf"},"view":{"fill":"#d8dde7"},"mark":"rect",
 "encoding":{
  "x":{"field":"t","type":"ordinal","scale":{"domain":[-250,-233.3,-216.7,-200,-183.3,-166.7,-150,-133.3,-116.7,-100,-83.3,-66.7,-50,-33.3,-16.7,0],"paddingInner":0,"paddingOuter":0},"axis":{"values":[-200,-100,0],"labelAngle":0,"title":null,"tickSize":-10,"tickWidth":3,"domainWidth":3,"labelPadding":19}},
  "y":{"field":"b","type":"ordinal","scale":{"domain":[16,15,14,13,12,11,10,9,8,7,6,5,4,3,2,1],"paddingInner":0,"paddingOuter":0},"axis":{"values":[12,8,4],"bandPosition":0,"labels":false,"tickSize":-11,"tickWidth":3,"domainWidth":3,"title":["Context model","Bar position"],"titlePadding":11,"titleLineHeight":23}},
  "color":{"field":"v","type":"quantitative","scale":{"domain":[-1,-0.6,-0.3,-0.1,0,0.1,0.3,0.6,1],"range":["#2a4ac8","#5a88e6","#9fbdf0","#c8d5ec","#dcdee3","#ebd6cf","#f4b49a","#ec7b5d","#cc1124"]},"legend":null}}},
{"width":53,"height":150,"data":{"values":[]},"mark":"point","encoding":{}},
{"width":148,"height":150,"title":"CF","data":{"name":"cf"},"view":{"fill":"#d9dde6"},"mark":"rect",
 "encoding":{
  "x":{"field":"t","type":"ordinal","scale":{"domain":[-216.7,-200,-183.3,-166.7,-150,-133.3,-116.7,-100,-83.3,-66.7,-50,-33.3,-16.7,0,16.7,33.3],"paddingInner":0,"paddingOuter":0},"axis":{"values":[-166.7,-66.7,33.3],"labelExpr":"datum.value < 0 ? ceil(datum.value) : floor(datum.value)","labelAngle":0,"title":null,"tickSize":-10,"tickWidth":3,"domainWidth":3,"labelPadding":19}},
  "y":{"field":"b","type":"ordinal","scale":{"domain":[16,15,14,13,12,11,10,9,8,7,6,5,4,3,2,1],"paddingInner":0,"paddingOuter":0},"axis":{"values":[12,8,4],"bandPosition":0,"labels":false,"tickSize":-11,"tickWidth":3,"domainWidth":3,"title":null}},
  "color":{"field":"v","type":"quantitative","scale":{"domain":[-1,-0.6,-0.3,-0.1,0,0.1,0.3,0.6,1],"range":["#2a4ac8","#5a88e6","#9fbdf0","#c8d5ec","#dcdee3","#ebd6cf","#f4b49a","#ec7b5d","#cc1124"]},"legend":null}}},
{"width":8,"height":150,"data":{"values":[]},"mark":"point","encoding":{}},
{"width":8,"height":150,
 "encoding":{"x":{"field":"x","type":"quantitative","scale":{"domain":[0,1],"nice":false,"zero":false},"axis":null},
  "y":{"field":"y","type":"quantitative","scale":{"domain":[-1.685,1.685],"nice":false,"zero":false},"axis":null}},
 "layer":[
  {"data":{"name":"cbbar"},"mark":{"type":"rect","color":{"gradient":"linear","x1":0,"y1":0,"x2":0,"y2":1,"stops":[{"offset":0,"color":"#cc1124"},{"offset":0.2,"color":"#ec7b5d"},{"offset":0.35,"color":"#f4b49a"},{"offset":0.5,"color":"#e4e2e6"},{"offset":0.65,"color":"#9fbdf0"},{"offset":0.8,"color":"#5a88e6"},{"offset":1,"color":"#2a4ac8"}]}},"encoding":{"x2":{"field":"x2"},"y2":{"field":"y2"}}},
  {"data":{"name":"cbtext"},"mark":{"type":"text","fontSize":20,"align":"left","baseline":"alphabetic"},"encoding":{"text":{"field":"s"}}}
 ]},
{"width":66,"height":150,"data":{"values":[]},"mark":"point","encoding":{}},
{"width":206,"height":150,"title":"Nonlinearity","data":{"name":"nl"},
 "encoding":{"x":{"field":"z","type":"quantitative","scale":{"domain":[-1.1,21.1],"nice":false,"zero":false},"axis":{"domainWidth":2.5,"ticks":false,"labels":false,"title":"z","titlePadding":1}},
  "y":{"field":"v","type":"quantitative","scale":{"domain":[0,1],"nice":false,"zero":false},"axis":{"domainWidth":2.5,"ticks":false,"labels":false,"title":null}}},
 "layer":[
  {"mark":{"type":"line"},"encoding":{
    "color":{"field":"s","type":"nominal","scale":{"domain":["P(spike|z)","ƒ (z)"],"range":["#000000","#8c8c8c"]},
      "legend":{"orient":"top-left","offset":10,"padding":0,"title":null,"symbolType":"M-1,0H1M-0.25,0A0.25,0.25,0,1,1,0.25,0A0.25,0.25,0,1,1,-0.25,0","symbolSize":400,"symbolStrokeWidth":4,"labelFontSize":21,"labelOffset":7,"rowPadding":8,"labelColor":"#000","labelFont":"Liberation Sans"}},
    "strokeWidth":{"field":"s","type":"nominal","scale":{"domain":["P(spike|z)","ƒ (z)"],"range":[2.5,4]},"legend":null}}},
  {"mark":{"type":"point","filled":true,"opacity":1},"encoding":{
    "color":{"field":"s","type":"nominal"},
    "size":{"field":"s","type":"nominal","scale":{"domain":["P(spike|z)","ƒ (z)"],"range":[30,64]},"legend":null}}}
 ]},
{"width":390,"height":150,"data":{"values":[]},"mark":"point","encoding":{}},
{"width":138,"height":150,"data":{"values":[]},"mark":"point","encoding":{}},
{"width":150,"height":150,"title":{"text":"Filter 1","offset":-5},"data":{"name":"f1"},"view":{"fill":"#dcdde2"},"mark":"rect",
 "encoding":{
  "x":{"field":"t","type":"ordinal","scale":{"domain":[-250,-233.3,-216.7,-200,-183.3,-166.7,-150,-133.3,-116.7,-100,-83.3,-66.7,-50,-33.3,-16.7,0],"paddingInner":0,"paddingOuter":0},"axis":{"values":[-200,-100,0],"labelAngle":0,"title":"Time (ms)","titlePadding":0,"tickSize":-10,"tickWidth":3,"domainWidth":3,"labelPadding":19}},
  "y":{"field":"b","type":"ordinal","scale":{"domain":[16,15,14,13,12,11,10,9,8,7,6,5,4,3,2,1],"paddingInner":0,"paddingOuter":0},"axis":{"values":[12,8,4],"bandPosition":0,"labels":false,"tickSize":-11,"tickWidth":3,"domainWidth":3,"title":["Two-filter LN model","Bar position"],"titlePadding":11,"titleLineHeight":23}},
  "color":{"field":"v","type":"quantitative","scale":{"domain":[-1,-0.6,-0.3,-0.1,0,0.1,0.3,0.6,1],"range":["#2a4ac8","#5a88e6","#9fbdf0","#c8d5ec","#dcdee3","#ebd6cf","#f4b49a","#ec7b5d","#cc1124"]},"legend":null}}},
{"width":53,"height":150,"data":{"values":[]},"mark":"point","encoding":{}},
{"width":149,"height":150,"title":"Filter 2","data":{"name":"f2"},"view":{"fill":"#dcdde2"},"mark":"rect",
 "encoding":{
  "x":{"field":"t","type":"ordinal","scale":{"domain":[-250,-233.3,-216.7,-200,-183.3,-166.7,-150,-133.3,-116.7,-100,-83.3,-66.7,-50,-33.3,-16.7,0],"paddingInner":0,"paddingOuter":0},"axis":{"values":[-250,-83.3],"labels":false,"title":null,"tickSize":-10,"tickWidth":3,"domainWidth":3}},
  "y":{"field":"b","type":"ordinal","scale":{"domain":[16,15,14,13,12,11,10,9,8,7,6,5,4,3,2,1],"paddingInner":0,"paddingOuter":0},"axis":{"values":[12,8,4],"bandPosition":0,"labels":false,"tickSize":-11,"tickWidth":3,"domainWidth":3,"title":null}},
  "color":{"field":"v","type":"quantitative","scale":{"domain":[-1,-0.6,-0.3,-0.1,0,0.1,0.3,0.6,1],"range":["#2a4ac8","#5a88e6","#9fbdf0","#c8d5ec","#dcdee3","#ebd6cf","#f4b49a","#ec7b5d","#cc1124"]},"legend":null}}},
{"width":8,"height":150,"data":{"values":[]},"mark":"point","encoding":{}},
{"width":8,"height":150,"data":{"values":[]},"mark":"point","encoding":{}},
{"width":66,"height":150,"data":{"values":[]},"mark":"point","encoding":{}},
{"width":148,"height":150,"title":"Nonlinearity","view":{"fill":"#000000"},
 "resolve":{"scale":{"x":"independent","y":"independent"},"axis":{"x":"independent","y":"independent"}},
 "layer":[
  {"data":{"name":"nl2"},"mark":"rect",
   "encoding":{
    "x":{"field":"c","type":"ordinal","scale":{"domain":[0,1,2,3,4,5,6,7,8,9,10,11,12,13,14,15,16,17,18,19],"paddingInner":0,"paddingOuter":0},"axis":{"ticks":false,"labels":false,"domainWidth":2.5,"title":"z₁","titleFont":"Liberation Serif, DejaVu Serif","titleFontSize":22,"titlePadding":1}},
    "y":{"field":"r","type":"ordinal","scale":{"domain":[0,1,2,3,4,5,6,7,8,9,10,11,12,13,14,15,16,17,18,19],"paddingInner":0,"paddingOuter":0},"axis":{"ticks":false,"labels":false,"domainWidth":2.5,"title":"z₂","titleFont":"Liberation Serif, DejaVu Serif","titleFontSize":22,"titlePadding":3}},
    "color":{"field":"g","type":"quantitative","scale":{"domain":[0,1],"range":["#000000","#ffffff"]},"legend":null}}},
  {"encoding":{"x":{"field":"x","type":"quantitative","scale":{"domain":[-27.86,-6.71],"nice":false,"zero":false},"axis":null},
    "y":{"field":"y","type":"quantitative","scale":{"domain":[-1.724,1.724],"nice":false,"zero":false},"axis":null}},
   "layer":[
    {"data":{"name":"gcbbar"},"mark":{"type":"rect","color":{"gradient":"linear","x1":0,"y1":0,"x2":0,"y2":1,"stops":[{"offset":0,"color":"#f2f2f2"},{"offset":1,"color":"#000000"}]}},"encoding":{"x2":{"field":"x2"},"y2":{"field":"y2"}}},
    {"data":{"name":"gcbtext"},"mark":{"type":"text","fontSize":21,"align":"left","baseline":"alphabetic"},"encoding":{"text":{"field":"s"}}},
    {"data":{"name":"gcbtitle"},"mark":{"type":"text","fontSize":21,"angle":270,"align":"center","baseline":"middle"},"encoding":{"text":{"field":"s"}}}
   ]}
 ]}
],
"columns":9,
"spacing":{"row":84,"column":0},
"bounds":"flush",
"align":"each"
}
